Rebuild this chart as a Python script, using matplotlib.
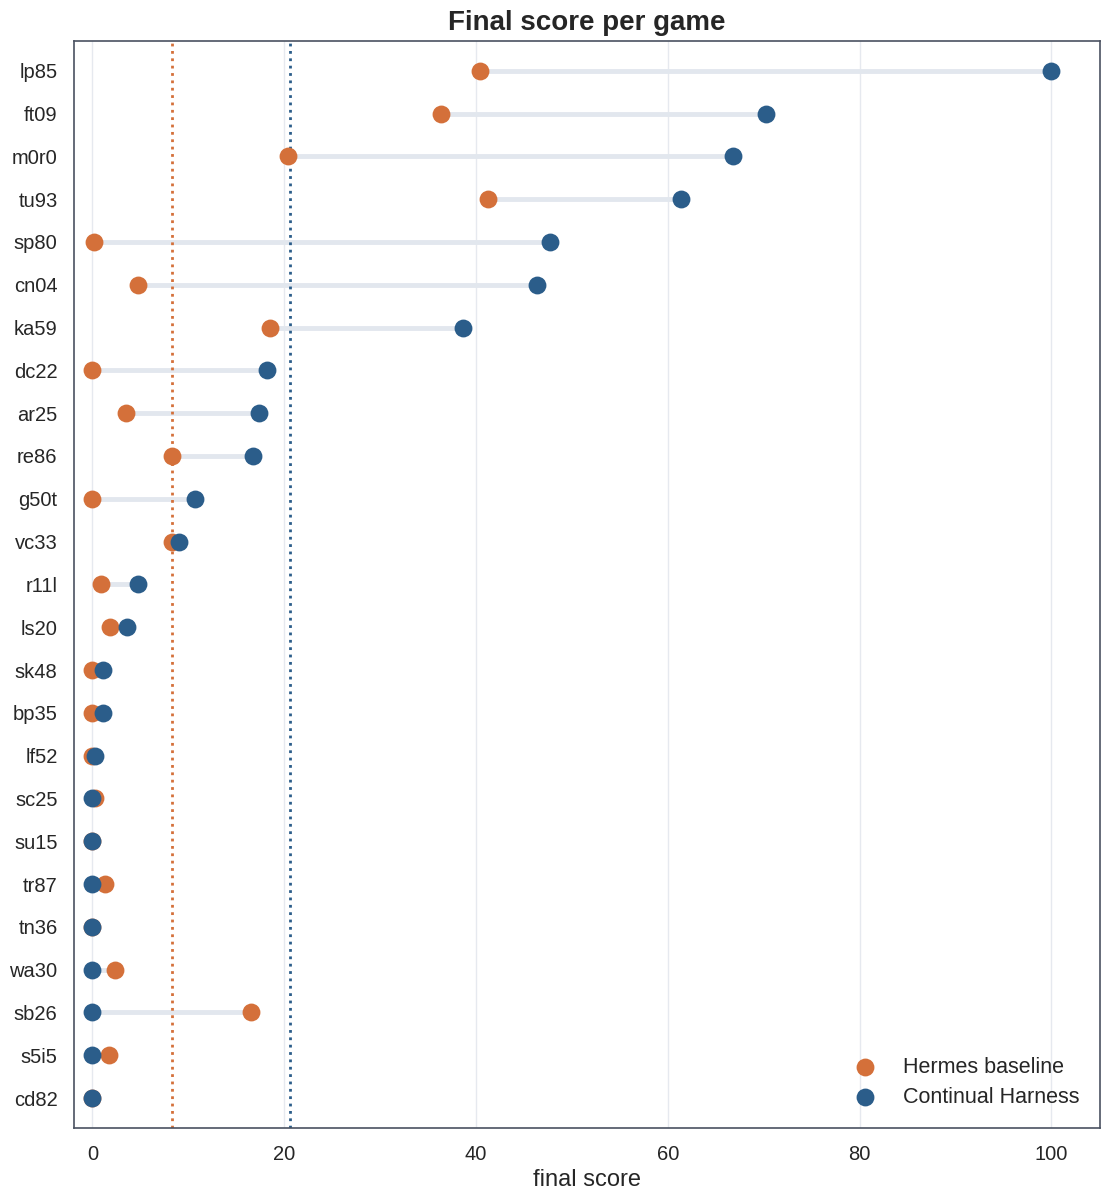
import numpy as np
import matplotlib.pyplot as plt
import seaborn as sns

# game ids, top to bottom
games = ["lp85", "ft09", "m0r0", "tu93", "sp80", "cn04", "ka59", "dc22",
         "ar25", "re86", "g50t", "vc33", "r11l", "ls20", "sk48", "bp35",
         "lf52", "sc25", "su15", "tr87", "tn36", "wa30", "sb26", "s5i5", "cd82"]

hermes = [40.4, 36.3, 20.4, 41.3, 0.2, 4.8, 18.5, 0.0,
          3.5, 8.3, 0.0, 8.3, 0.9, 1.8, 0.0, 0.0,
          0.0, 0.3, 0.0, 1.3, 0.0, 2.3, 16.5, 1.7, 0.0]

continual = [100.0, 70.2, 66.8, 61.4, 47.7, 46.4, 38.6, 18.2,
             17.4, 16.7, 10.7, 9.0, 4.8, 3.6, 1.1, 1.1,
             0.3, 0.0, 0.0, 0.0, 0.0, 0.0, 0.0, 0.0, 0.0]

ORANGE = "#D4703A"
BLUE = "#2B5D8A"

sns.set_style("white")
plt.rcParams["font.family"] = ["Liberation Sans", "DejaVu Sans"]

fig, ax = plt.subplots(figsize=(11.08, 12), dpi=100)
fig.subplots_adjust(left=0.067, right=0.993, top=0.966, bottom=0.06)

y = np.arange(len(games))

# connector lines
ax.hlines(y, hermes, continual, color="#E2E7EE", linewidth=3.5, zorder=1)

ax.scatter(hermes, y, s=165, color=ORANGE, zorder=3, label="Hermes baseline",
           linewidths=0)
ax.scatter(continual, y, s=165, color=BLUE, zorder=4, label="Continual Harness",
           linewidths=0)

# mean lines
ax.axvline(np.mean(hermes), color=ORANGE, linestyle=":", linewidth=2, zorder=2)
ax.axvline(np.mean(continual), color=BLUE, linestyle=":", linewidth=2, zorder=2)

ax.set_yticks(y)
ax.set_yticklabels(games)
ax.set_ylim(len(games) - 0.3, -0.7)
ax.set_xlim(-1.9, 105.1)
ax.set_xticks([0, 20, 40, 60, 80, 100])

ax.grid(axis="x", color="#E6E9EF", linewidth=1)
ax.set_axisbelow(True)
for sp in ax.spines.values():
    sp.set_color("#4A5261")
    sp.set_linewidth(1.2)

ax.tick_params(axis="both", labelsize=14.5, colors="#262626", length=0, pad=12)
ax.set_xlabel("final score", fontsize=17, color="#262626", labelpad=4)
ax.set_title("Final score per game", fontsize=20, fontweight="bold",
             color="#262626", pad=8)

ax.legend(loc="lower right", frameon=False, fontsize=15.5, markerscale=1.0,
          handletextpad=0.8, borderaxespad=0.55, labelspacing=0.4)

fig.savefig("out.png", dpi=100)
